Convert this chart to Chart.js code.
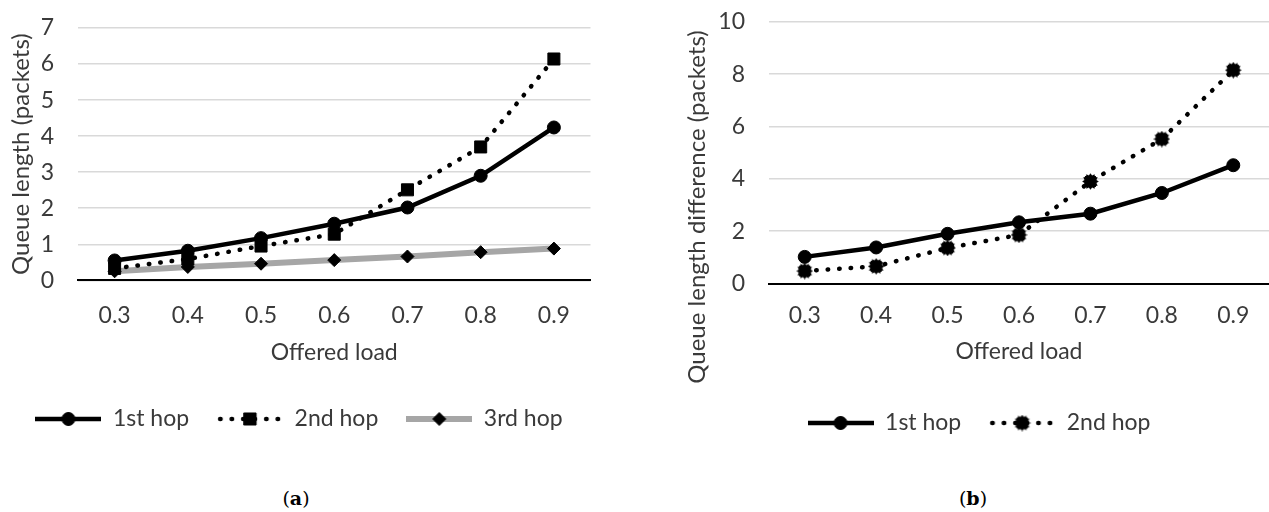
<!DOCTYPE html>
<html>
<head>
<meta charset="utf-8">
<script src="https://cdn.jsdelivr.net/npm/chart.js@4.4.0/dist/chart.umd.min.js"></script>
<style>
html, body { margin: 0; padding: 0; background: #fff; overflow: hidden; width: 1269px; height: 512px; }
#cajaA { position: absolute; left: 0; top: 0; width: 600px; height: 470px; }
#cajaB { position: absolute; left: 670px; top: 0; width: 608px; height: 470px; }
.pie { position: absolute; top: 486px; width: 80px; text-align: center; line-height: 24px;
       font-family: "DejaVu Serif", serif; font-size: 19px; color: #000; }
</style>
</head>
<body>
<div id="cajaA"><canvas id="graficoA" width="600" height="470"></canvas></div>
<div id="cajaB"><canvas id="graficoB" width="608" height="470"></canvas></div>
<div class="pie" style="left:256px">(<b>a</b>)</div>
<div class="pie" style="left:933px">(<b>b</b>)</div>
<script>
// datos
var cargas = ['0.3', '0.4', '0.5', '0.6', '0.7', '0.8', '0.9'];
var hop1A = [0.55, 0.82, 1.17, 1.57, 2.02, 2.9, 4.24];
var hop2A = [0.33, 0.59, 0.95, 1.28, 2.51, 3.7, 6.14];
var hop3A = [0.25, 0.37, 0.46, 0.56, 0.66, 0.78, 0.88];
var hop1B = [1.02, 1.38, 1.9, 2.34, 2.67, 3.46, 4.52];
var hop2B = [0.48, 0.66, 1.36, 1.86, 3.9, 5.52, 8.15];
var nombresA = ['1st hop', '2nd hop', '3rd hop'];
var nombresB = ['1st hop', '2nd hop'];

var fuente = { family: 'Lato', size: 23 };
var fuenteTitulo = { family: 'Lato', size: 24 };
var gris = '#3a3a3a';
var punteado = [0.5, 11];

// marcador cuadrado dentado (2nd hop de la figura b)
function marcadorEstrella() {
    var c = document.createElement('canvas');
    c.width = 17; c.height = 17;
    var g = c.getContext('2d');
    g.fillStyle = '#000';
    g.fillRect(3, 3, 11, 11);
    g.beginPath();
    for (var i = 0; i < 24; i++) {
        var r = (i % 2 == 0) ? 8.3 : 6.2;
        var a = Math.PI * 2 * i / 24;
        g.lineTo(8.5 + r * Math.cos(a), 8.5 + r * Math.sin(a));
    }
    g.closePath();
    g.fill();
    return c;
}
var estrella = marcadorEstrella();

// icono de leyenda: linea + marcador
function iconoLeyenda(color, ancho, guiones, marcador, radio) {
    var c = document.createElement('canvas');
    c.width = 66; c.height = 20;
    var g = c.getContext('2d');
    g.strokeStyle = color;
    g.lineWidth = ancho;
    if (guiones) {
        g.lineCap = 'round';
        g.setLineDash(guiones);
    }
    g.beginPath();
    g.moveTo(guiones ? 3 : 0, 10);
    g.lineTo(guiones ? 64 : 66, 10);
    g.stroke();
    g.setLineDash([]);
    g.fillStyle = '#000';
    g.strokeStyle = '#000';
    g.lineWidth = 1;
    Chart.helpers.drawPoint(g, { pointStyle: marcador, radius: radio, borderWidth: 1, rotation: 0 }, 33, 10);
    return c;
}

function etiquetas(chart) {
    return chart.data.datasets.map(function(ds, i) {
        return { text: ds.label, pointStyle: ds.icono, fillStyle: '#000', strokeStyle: '#000',
                 lineWidth: 0, hidden: false, datasetIndex: i, fontColor: gris };
    });
}

var tituloVertical = {
    id: 'tituloVertical',
    afterDraw: function(chart, args, opts) {
        if (!opts.texto) return;
        var g = chart.ctx;
        g.save();
        g.translate(opts.x, opts.y);
        g.rotate(-Math.PI / 2);
        g.font = '24px Lato';
        g.fillStyle = gris;
        g.textAlign = 'center';
        g.textBaseline = 'middle';
        g.fillText(opts.texto, 0, 0);
        g.restore();
    }
};

function serie(nombre, valores, color, ancho, guiones, marcador, radio) {
    return {
        label: nombre,
        data: valores,
        borderColor: color,
        borderWidth: ancho,
        borderDash: guiones || [],
        borderCapStyle: guiones ? 'round' : 'butt',
        tension: 0,
        fill: false,
        pointStyle: marcador,
        pointRadius: radio,
        pointHoverRadius: radio,
        pointBackgroundColor: '#000',
        pointBorderColor: '#000',
        pointBorderWidth: 1,
        icono: iconoLeyenda(color, ancho, guiones, marcador, radio)
    };
}

function opciones(maxY, paso, anchoEje, tituloY, padEje, padTitulo, padding) {
    return {
        responsive: false,
        animation: false,
        devicePixelRatio: 1,
        layout: { padding: padding },
        plugins: {
            legend: {
                position: 'bottom',
                labels: { usePointStyle: true, pointStyleWidth: 66, padding: 28, font: fuente, color: gris,
                          generateLabels: etiquetas }
            },
            tooltip: { enabled: false },
            tituloVertical: tituloY
        },
        scales: {
            x: {
                offset: true,
                grid: { display: false, drawTicks: false },
                border: { display: true, color: '#000', width: 2 },
                ticks: { padding: padEje, color: gris, font: fuente },
                title: { display: true, text: 'Offered load', color: gris, font: fuente, padding: padTitulo }
            },
            y: {
                min: 0,
                max: maxY,
                ticks: { stepSize: paso, autoSkip: false, padding: 2, color: gris, font: fuente },
                grid: { color: '#d9d9d9', lineWidth: 1.5, drawTicks: true, tickLength: 22, tickColor: 'rgba(0,0,0,0)' },
                border: { display: false },
                title: { display: !tituloY.texto, text: 'Queue length (packets)', color: gris, font: fuenteTitulo,
                         padding: { top: 3, bottom: 0 } },
                afterFit: function(s) { s.width = anchoEje; }
            }
        }
    };
}

new Chart(document.getElementById('graficoA'), {
    type: 'line',
    data: {
        labels: cargas,
        datasets: [
            serie(nombresA[0], hop1A, '#000', 4.5, null, 'circle', 6.5),
            serie(nombresA[1], hop2A, '#000', 4.5, punteado, 'rect', 8.5),
            serie(nombresA[2], hop3A, '#a6a6a6', 6, null, 'rectRot', 6.5)
        ]
    },
    options: opciones(7, 1, 74, {}, 21, { top: -11, bottom: 13 }, { left: 4, right: 6, top: 28, bottom: 29.5 }),
    plugins: [tituloVertical]
});

new Chart(document.getElementById('graficoB'), {
    type: 'line',
    data: {
        labels: cargas,
        datasets: [
            serie(nombresB[0], hop1B, '#000', 4.5, null, 'circle', 6.5),
            serie(nombresB[1], hop2B, '#000', 4.5, punteado, estrella, 8)
        ]
    },
    options: opciones(10, 2, 89, { texto: 'Queue length difference (packets)', x: 27, y: 207 }, 18, { top: -9, bottom: 17.7 },
                      { left: 10, right: 0, top: 21.7, bottom: 25.5 }),
    plugins: [tituloVertical]
});
</script>
</body>
</html>
